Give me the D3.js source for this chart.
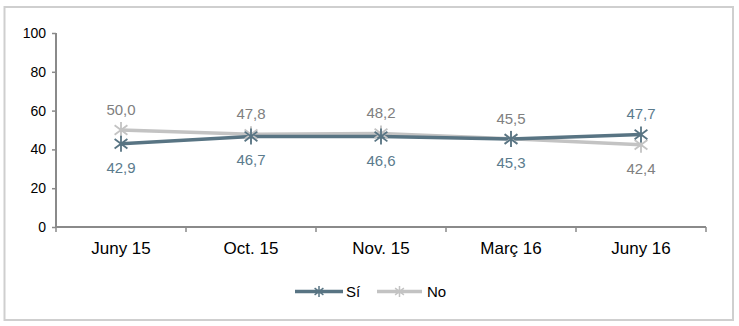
<!DOCTYPE html>
<html><head><meta charset="utf-8">
<script src="https://cdn.jsdelivr.net/npm/d3@7/dist/d3.min.js"></script>
<style>body{margin:0;background:#fff}svg{display:block;font-family:"Liberation Sans",Arial,sans-serif}</style>
</head><body><svg id="c" width="739" height="326"></svg>
<script>
const categories = ["Juny 15", "Oct. 15", "Nov. 15", "Març 16", "Juny 16"];
const siValues = [42.9, 46.7, 46.6, 45.3, 47.7];
const noValues = [50.0, 47.8, 48.2, 45.5, 42.4];
const yTicks = [0, 20, 40, 60, 80, 100];
const seriesNames = ["Sí", "No"];

const svg = d3.select("#c");
svg.append("rect").attr("x",4.5).attr("y",7).attr("width",728.5).attr("height",313)
  .attr("fill","none").attr("stroke","#cfcfcf").attr("stroke-width",2);

const x = d3.scaleBand().domain(categories).range([56,706]);
const y = d3.scaleLinear().domain([0,100]).range([227,33]);
const axisColor = "#8a8a8a";

// y axis
const ya = svg.append("g").attr("transform","translate(56,0)")
  .call(d3.axisLeft(y).tickValues(yTicks).tickSize(4).tickPadding(6).tickFormat(d3.format("d")));
ya.select(".domain").attr("stroke",axisColor).attr("stroke-width",2).attr("d","M0,33V227");
ya.selectAll(".tick line").attr("stroke",axisColor).attr("stroke-width",1.5);
ya.selectAll(".tick text").attr("font-size",14).attr("fill","#000").attr("font-family","Liberation Sans, Arial");

// x axis
const xa = svg.append("g").attr("transform","translate(0,227)")
  .call(d3.axisBottom(x).tickSize(0).tickPadding(15));
xa.select(".domain").attr("stroke",axisColor).attr("stroke-width",2).attr("d","M56,0H706");
xa.selectAll(".tick line").remove();
xa.selectAll(".tick text").attr("font-size",17).attr("fill","#000").attr("font-family","Liberation Sans, Arial");
const bounds = categories.map(c => x(c)).concat([x.range()[1]]);
xa.selectAll("line.bt").data(bounds).enter().append("line").attr("class","bt")
  .attr("x1",d=>d).attr("x2",d=>d).attr("y1",0).attr("y2",5)
  .attr("stroke",axisColor).attr("stroke-width",1.5);

const cx = c => x(c) + x.bandwidth()/2;

function star(g, px, py, r, color, w){
  const d = r*0.8;
  g.append("path").attr("d",`M${px},${py-r}V${py+r}M${px-d},${py-d*0.75}L${px+d},${py+d*0.75}M${px-d},${py+d*0.75}L${px+d},${py-d*0.75}`)
    .attr("stroke",color).attr("stroke-width",w).attr("fill","none");
}

const series = [
  {name: seriesNames[0], values: siValues, line: "#587483", label: "#5b7b8d"},
  {name: seriesNames[1], values: noValues, line: "#c3c3c3", label: "#808080"}
];
const other = [noValues, siValues];

// draw No first (behind) then Sí
[1,0].forEach(i => {
  const s = series[i];
  const line = d3.line().x((d,j)=>cx(categories[j])).y(d=>y(d));
  svg.append("path").datum(s.values).attr("d",line).attr("fill","none")
    .attr("stroke",s.line).attr("stroke-width",3.5);
});
[1,0].forEach(i => {
  const s = series[i];
  const g = svg.append("g");
  s.values.forEach((v,j)=> star(g, cx(categories[j]), y(v), 8, s.line, 1.8));
});
series.forEach((s,i) => {
  svg.append("g").selectAll("text").data(s.values).enter().append("text")
    .attr("x",(d,j)=>cx(categories[j]))
    .attr("y",(d,j)=> d >= other[i][j] ? y(d)-15 : y(d)+29)
    .attr("text-anchor","middle").attr("font-size",15).attr("fill",s.label)
    .text(d=>d3.format(".1f")(d).replace(".",","));
});

// legend
const leg = [{x1:295,x2:343,tx:346},{x1:377,x2:422,tx:427}];
series.forEach((s,i)=>{
  const L = leg[i];
  svg.append("line").attr("x1",L.x1).attr("x2",L.x2).attr("y1",291.5).attr("y2",291.5)
    .attr("stroke",s.line).attr("stroke-width",3.5);
  star(svg, (L.x1+L.x2)/2, 291.5, 5.5, s.line, 1.5);
  svg.append("text").attr("x",L.tx).attr("y",297).attr("font-size",15).attr("fill","#000").text(s.name);
});
</script></body></html>
